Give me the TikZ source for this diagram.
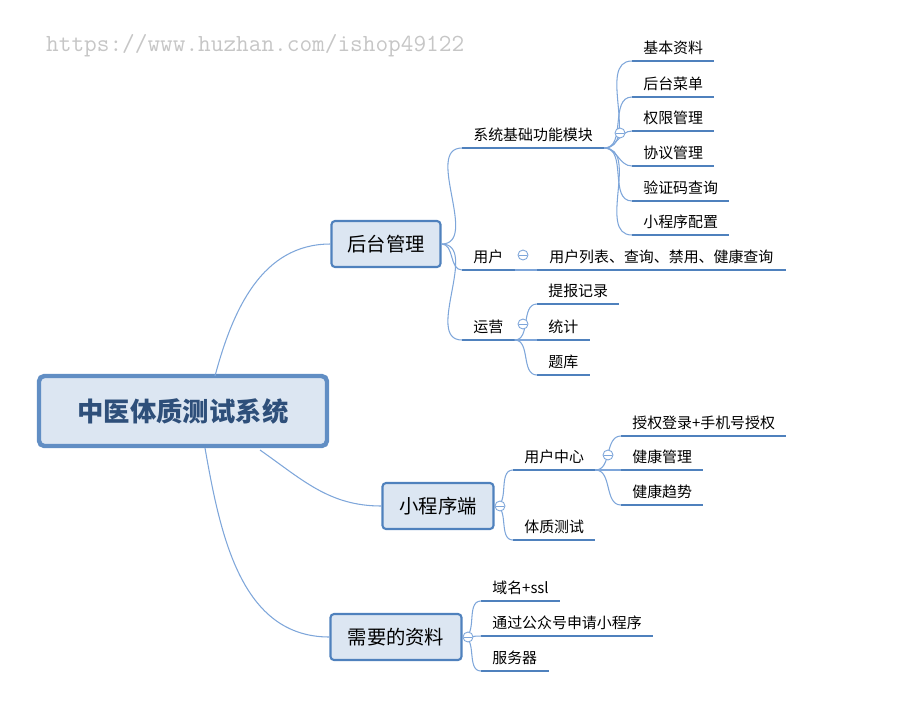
\documentclass[tikz,border=0pt]{standalone}
\usepackage{fontspec}
\setmainfont{Noto Sans CJK SC}
\usetikzlibrary{positioning}
\definecolor{linkblue}{HTML}{7EA6DA}
\definecolor{barblue}{HTML}{4F81BD}
\definecolor{boxfill}{HTML}{DCE6F2}
\definecolor{roottext}{HTML}{2E4F7A}

\tikzset{
    topic/.style={draw=barblue, line width=1.2pt, fill=boxfill, rounded corners=2pt,
        minimum height=46*0.02cm, inner xsep=8pt, font=\fontsize{11}{13}\selectfont},
    leaf/.style={anchor=south west, inner xsep=0.22cm, inner ysep=3.5pt,
        font=\fontsize{8.5}{10}\selectfont,
        append after command={(\tikzlastnode.south west) edge[bar] (\tikzlastnode.south east)}},
    bar/.style={draw=barblue, line width=1.1pt},
    link/.style={draw=linkblue, line width=0.6pt},
    fold/.style={circle, draw=linkblue, fill=white, line width=0.5pt, inner sep=0pt, minimum size=10*0.02cm,
        path picture={\draw[linkblue, line width=0.5pt] ([xshift=-2pt]path picture bounding box.center) -- ([xshift=2pt]path picture bounding box.center);}}
}

\begin{document}
\begin{tikzpicture}[x=0.02cm, y=-0.02cm]
    \useasboundingbox (0,0) rectangle (900,725);

    % watermark
    \node[anchor=west, text=gray!45, font=\ttfamily\fontsize{14}{16}\selectfont] (wm) at (40,46) {https://www.huzhan.com/ishop49122};

    % root and main topics
    \node[draw=barblue!90, line width=2.5pt, fill=boxfill, rounded corners=3pt,
        minimum width=288*0.02cm, minimum height=70*0.02cm,
        text=roottext, font=\bfseries\fontsize{15}{17}\selectfont] (root) at (183,411) {中医体质测试系统};
    \node[topic, minimum width=109*0.02cm] (admin) at (386,244) {后台管理};
    \node[topic, minimum width=111*0.02cm] (mini) at (438,506) {小程序端};
    \node[topic, minimum width=131*0.02cm] (need) at (396,637) {需要的资料};

    \coordinate (r1) at (215,376);
    \coordinate (r2) at (260,450);
    \coordinate (r3) at (205,448);
    \draw[link] (r1) to[out=75, in=180] (admin.west);
    \draw[link] (r2) to[out=-35, in=180] (mini.west);
    \draw[link] (r3) to[out=-80, in=180] (need.west);

    % 后台管理
    \node[leaf] (sys) at (462,148) {系统基础功能模块};
    \node[leaf] (user) at (462,270) {用户};
    \node[leaf] (ops) at (462,340) {运营};
    \foreach \n in {sys, user, ops}
        \draw[link] (admin.east) to[out=0, in=180] (\n.south west);

    \node[leaf] (s1) at (632,61) {基本资料};
    \node[leaf] (s2) at (632,97) {后台菜单};
    \node[leaf] (s3) at (632,131) {权限管理};
    \node[leaf] (s4) at (632,166) {协议管理};
    \node[leaf] (s5) at (632,201) {验证码查询};
    \node[leaf] (s6) at (632,235) {小程序配置};
    \foreach \n in {s1, s2, s3, s4, s5, s6}
        \draw[link] (sys.south east) to[out=0, in=180] (\n.south west);
    \node[fold] (fsys) at (620,133) {};

    \node[leaf, inner xsep=0.24cm] (u1) at (537,270) {用户列表、查询、禁用、健康查询};
    \draw[link] (user.south east) -- (u1.south west);
    \node[fold] (fuser) at (523,255) {};

    \node[leaf] (o1) at (537,304) {提报记录};
    \node[leaf] (o2) at (537,340) {统计};
    \node[leaf] (o3) at (537,375) {题库};
    \foreach \n in {o1, o2, o3}
        \draw[link] (ops.south east) to[out=0, in=180] (\n.south west);
    \node[fold] (fops) at (523,324) {};

    % 小程序端
    \node[leaf] (center) at (513,470) {用户中心};
    \node[leaf] (test) at (513,540) {体质测试};
    \foreach \n in {center, test}
        \draw[link] (mini.east) to[out=0, in=180] (\n.south west);
    \node[fold] (fmini) at (500,506) {};

    \node[leaf] (c1) at (621,436) {授权登录+手机号授权};
    \node[leaf] (c2) at (621,470) {健康管理};
    \node[leaf] (c3) at (621,505) {健康趋势};
    \foreach \n in {c1, c2, c3}
        \draw[link] (center.south east) to[out=0, in=180] (\n.south west);
    \node[fold] (fcenter) at (608,455) {};

    % 需要的资料
    \node[leaf] (n1) at (481,601) {域名+ssl};
    \node[leaf] (n2) at (481,636) {通过公众号申请小程序};
    \node[leaf] (n3) at (481,671) {服务器};
    \foreach \n in {n1, n2, n3}
        \draw[link] (need.east) to[out=0, in=180] (\n.south west);
    \node[fold] (fneed) at (468,637) {};
\end{tikzpicture}
\end{document}
